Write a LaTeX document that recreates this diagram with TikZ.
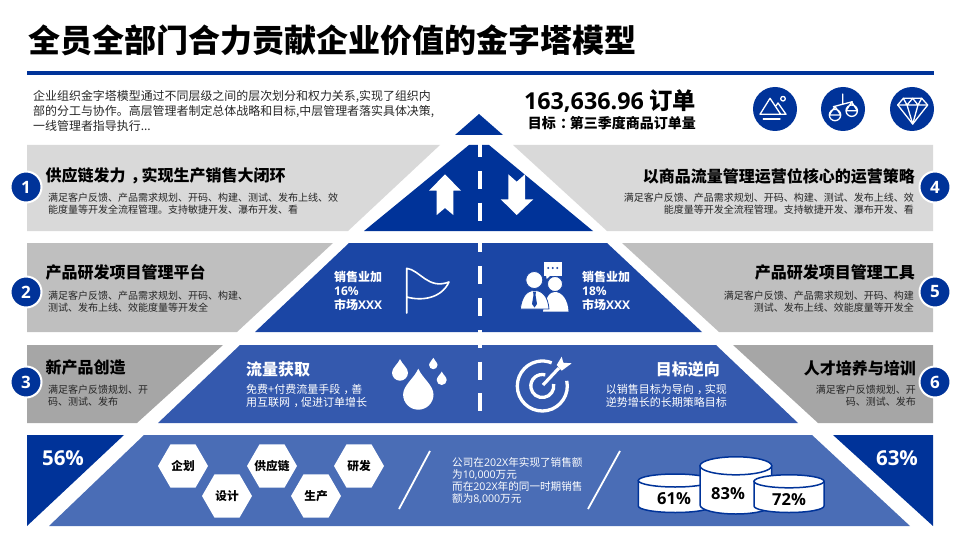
\documentclass[tikz,border=0pt]{standalone}
\usepackage{fontspec}
\setmainfont{Noto Sans CJK SC}
\newfontfamily\latfont{Open Sans}
\usepackage{tikz}
\usetikzlibrary{shapes.geometric}
\definecolor{navy}{HTML}{003399}
\definecolor{bluetwo}{HTML}{1B46A5}
\definecolor{bluethree}{HTML}{3459AE}
\definecolor{bluefour}{HTML}{4A6DB6}
\definecolor{grayone}{HTML}{D9D9D9}
\definecolor{graytwo}{HTML}{BFBFBF}
\definecolor{graythree}{HTML}{A6A6A6}
\newcommand{\fsize}[1]{\fontsize{#1}{#1}\selectfont}
\newcommand{\qcomma}{\hspace{.3em}\char"FF0C\hspace{-.3em}}
\newcommand{\qcolon}{\hspace{.3em}\char"FF1A\hspace{-.3em}}
\tikzset{
  numdot/.style  = {circle, fill=navy, draw=white, line width=2, minimum size=31, inner sep=0,
                    text=white, font=\latfont\bfseries\fsize{17}},
  icondot/.style = {circle, fill=navy, minimum size=44, inner sep=0},
  hexa/.style    = {regular polygon, regular polygon sides=6, fill=white, minimum size=50, inner sep=-8,
                    font=\bfseries\fsize{11.7}},
  head/.style    = {inner sep=0, font=\bfseries\fsize{16}},
  lsub/.style    = {inner sep=0, anchor=west, align=left, text=black!85,
                    font=\fontsize{10}{12}\selectfont},
  rsub/.style    = {inner sep=0, anchor=east, align=right, text=black!85,
                    font=\fontsize{10}{12}\selectfont},
  wsub/.style    = {inner sep=0, align=left, text=white, font=\fontsize{11}{13}\selectfont},
  sale/.style    = {inner sep=0, anchor=west, align=left, text=white,
                    font=\bfseries\fontsize{12}{14}\selectfont},
  pct/.style     = {inner sep=0, font=\latfont\bfseries\fsize{16.5}},
  bigpct/.style  = {inner sep=0, text=white, font=\latfont\bfseries\fsize{20.5}},
  iconline/.style= {draw=white, line width=1.3, line join=round, line cap=round},
  slash/.style   = {draw=white, line width=1.8},
  drumline/.style= {draw=navy, line width=1.5, fill=white},
}
% x1, x2, top y, ellipse height, bottom y
\newcommand{\drum}[5]{%
  \draw[drumline] (#1,#3) -- (#1,#5)
    arc[start angle=180, end angle=0, x radius={(#2-#1)/2}, y radius=#4] -- (#2,#3) -- cycle;
  \draw[drumline] ({(#1+#2)/2},#3) circle[x radius={(#2-#1)/2}, y radius=#4];
}
% x, y of the bulb, radius
\newcommand{\waterdrop}[3]{%
  \fill[white] (#1,{#2-1.7*#3}) .. controls ({#1+0.25*#3},{#2-1.1*#3}) and ({#1+#3},{#2-0.6*#3}) .. ({#1+#3},#2)
    arc[start angle=0, end angle=180, radius=#3]
    .. controls ({#1-#3},{#2-0.6*#3}) and ({#1-0.25*#3},{#2-1.1*#3}) .. cycle;
}
\begin{document}
\begin{tikzpicture}[x=1pt,y=-1pt]
  \useasboundingbox (0,0) rectangle (960,540);
  % header
  \node[inner sep=0, anchor=west, font=\bfseries\fsize{32}] (title) at (28,40) {全员全部门合力贡献企业价值的金字塔模型};
  \fill[navy] (27,71) rectangle (934,75);
  \node[inner sep=0, anchor=west, align=left, text=black!85, font=\fontsize{11.95}{14.7}\selectfont] (intro) at (33,111)
    {企业组织金字塔模型通过不同层级之间的层次划分和权力关系,实现了组织内\\部的分工与协作。高层管理者制定总体战略和目标,中层管理者落实具体决策,\\一线管理者指导执行...};
  \node[inner sep=0, anchor=east, font=\bfseries\fsize{23.3}] (total) at (696,101) {{\latfont 163,636.96} 订单};
  \node[inner sep=0, anchor=east, font=\bfseries\fsize{14}] (goal) at (696,123) {目标\qcolon 第三季度商品订单量};
  \node[icondot] (mountain) at (775,109) {};
  \node[icondot] (scales) at (843,109) {};
  \node[icondot] (gem) at (912,109) {};
  \draw[iconline] (760,114.3) -- (770,98.3) -- (780.7,114.3) (775.5,106.5) -- (778,103) -- (786,114.3) -- (760,114.3);
  \draw[iconline] (763.3,119) -- (780,119);
  \draw[iconline] (783,98.7) circle[radius=2.3];
  \draw[iconline] (842.7,94) -- (842.7,103.5) (833.3,106.7) -- (852.3,101.7);
  \draw[iconline] (835,115) circle[radius=5.7] (829.3,115) -- (840.7,115) (829.8,114) -- (835,106.5) -- (840.2,114);
  \draw[iconline] (851.7,110.7) circle[radius=5.7] (846,110.7) -- (857.4,110.7) (846.5,110) -- (851.7,102) -- (856.9,110);
  \draw[iconline] (897.7,105) -- (903.3,98.3) -- (921.7,98.3) -- (927.7,105) -- (912.7,124) -- cycle;
  \draw[iconline] (897.7,105) -- (927.7,105) (903.3,98.3) -- (907,105) -- (912.7,98.3) -- (918,105) -- (921.7,98.3)
    (907,105) -- (912.7,124) -- (918,105);
  % pyramid
  \fill[navy] (479,114) -- (503,135) -- (455,135) -- cycle;
  \fill[navy] (469,145) -- (489,145) -- (593,231) -- (364,231) -- cycle;
  \fill[bluetwo] (349,243) -- (607,243) -- (702,332) -- (255,332) -- cycle;
  \fill[bluethree] (240,345) -- (716,345) -- (798,423) -- (158,423) -- cycle;
  \fill[bluefour] (144,435) -- (812,435) -- (910,526) -- (49,526) -- cycle;
  \draw[white, line width=4.5, dash pattern=on 18 off 13.8] (480,139) -- (480,423);
  % side bands
  \fill[grayone] (27,145) -- (440,145) -- (348,231) -- (27,231) -- cycle;
  \fill[graytwo] (27,243) -- (333,243) -- (237,332) -- (27,332) -- cycle;
  \fill[graythree] (27,345) -- (223,345) -- (137,423) -- (27,423) -- cycle;
  \fill[navy] (27,435) -- (124,435) -- (27,526) -- cycle;
  \fill[grayone] (513,145) -- (933,145) -- (933,231) -- (607,231) -- cycle;
  \fill[graytwo] (622,243) -- (933,243) -- (933,332) -- (719,332) -- cycle;
  \fill[graythree] (733,345) -- (933,345) -- (933,423) -- (818,423) -- cycle;
  \fill[navy] (833,435) -- (933,435) -- (933,526) -- cycle;
  % numbers
  \node[numdot] (n1) at (26,187) {1};
  \node[numdot] (n2) at (26,292) {2};
  \node[numdot] (n3) at (26,382) {3};
  \node[numdot] (n4) at (935,187) {4};
  \node[numdot] (n5) at (935,292) {5};
  \node[numdot] (n6) at (935,382) {6};
  % left texts
  \node[head, anchor=west] (h1) at (45.5,176) {供应链发力\qcomma 实现生产销售大闭环};
  \node[lsub] (s1) at (48,204) {满足客户反馈、产品需求规划、开码、构建、测试、发布上线、效\\能度量等开发全流程管理。支持敏捷开发、瀑布开发、看};
  \node[head, anchor=west] (h2) at (45.5,272) {产品研发项目管理平台};
  \node[lsub] (s2) at (48,301.5) {满足客户反馈、产品需求规划、开码、构建、\\测试、发布上线、效能度量等开发全};
  \node[head, anchor=west] (h3) at (45.5,367) {新产品创造};
  \node[lsub] (s3) at (48,396) {满足客户反馈规划、开\\码、测试、发布};
  % right texts
  \node[head, anchor=east] (h4) at (915,176) {以商品流量管理运营位核心的运营策略};
  \node[rsub] (s4) at (914,204) {满足客户反馈、产品需求规划、开码、构建、测试、发布上线、效\\能度量等开发全流程管理。支持敏捷开发、瀑布开发、看};
  \node[head, anchor=east] (h5) at (915,272) {产品研发项目管理工具};
  \node[rsub] (s5) at (914,301.5) {满足客户反馈、产品需求规划、开码、构建\\测试、发布上线、效能度量等开发全};
  \node[head, anchor=east] (h6) at (916,368) {人才培养与培训};
  \node[rsub] (s6) at (916,396) {满足客户反馈规划、开\\码、测试、发布};
  % arrows
  \fill[white] (445,174.3) -- (461,190.7) -- (453.3,190.7) -- (453.3,215) -- (445,208) -- (436.7,215) -- (436.7,190.7) -- (429,190.7) -- cycle;
  \fill[white] (516.7,215) -- (500.7,199.3) -- (508.3,199.3) -- (508.3,174.3) -- (516.7,181.7) -- (525,174.3) -- (525,199.3) -- (533.3,199.3) -- cycle;
  % second row
  \node[sale] (sl) at (334,290.5) {销售业加\\{\latfont 16\%}\\市场{\latfont XXX}};
  \node[sale] (sr) at (582,291) {销售业加\\{\latfont 18\%}\\市场{\latfont XXX}};
  \draw[iconline, line width=1.6] (406.7,313) -- (406.7,268.3) .. controls (420,270) and (428,290) .. (449,282)
    .. controls (441,299) and (421,301) .. (406.7,297);
  \fill[white] (544,261.7) rectangle (562.3,275.7);
  \fill[white] (546,275) -- (546.7,279) -- (551,275) -- cycle;
  \foreach \xdot in {548.3,552.7,557.3} \fill[bluetwo] (\xdot,268) circle[radius=1.1];
  \fill[white, draw=bluetwo, line width=0.8] (555,284) circle[radius=7.5];
  \fill[white] (543,311.5) .. controls (546,296) and (550,292) .. (555,292) .. controls (562,292) and (568,300) .. (568.5,311.5) -- cycle;
  \fill[white, draw=bluetwo, line width=0.8] (534.3,280) circle[radius=8.5];
  \fill[white, draw=bluetwo, line width=0.8] (520.3,309) .. controls (522,296) and (527,290.5) .. (534.5,290.5) .. controls (542,290.5) and (548,296) .. (549,309) -- cycle;
  \fill[bluetwo] (533,291.5) -- (536,291.5) -- (535.5,295) -- (537,304) -- (534.5,307.5) -- (532,304) -- (533.5,295) -- cycle;
  % third row
  \node[head, anchor=west, text=white] (hflow) at (246,369) {流量获取};
  \node[wsub, anchor=west] (sflow) at (246,395.5) {免费+付费流量手段\qcomma 善\\用互联网\qcomma 促进订单增长};
  \node[head, anchor=east, text=white] (hgoal) at (720,369) {目标逆向};
  \node[wsub, anchor=east, align=right] (sgoal) at (727,395.5) {以销售目标为导向\qcomma 实现\\逆势增长的长期策略目标};
  \waterdrop{418.3}{394.5}{15.2}
  \waterdrop{400}{372.7}{8}
  \waterdrop{433.3}{365}{4.2}
  \waterdrop{441.7}{380}{5}
  \draw[white, line width=3.3] (542.3,386) ++(-12:25) arc[start angle=-12, end angle=292, radius=25];
  \draw[white, line width=3.3] (542.3,386) ++(-10:11.5) arc[start angle=-10, end angle=285, radius=11.5];
  \draw[bluethree, line width=5.5] (543,385) -- (558,369);
  \draw[white, line width=3.2] (543,385) -- (559,368);
  \fill[white] (556.7,365) -- (561.7,356.7) -- (563.3,362.7) -- (571.7,363.3) -- (561.7,370.7) -- cycle;
  % bottom row
  \node[bigpct] (p56) at (63,458) {56\%};
  \node[bigpct] (p63) at (897,458) {63\%};
  \node[hexa] (plan) at (183,466) {企划};
  \node[hexa] (design) at (227,496) {设计};
  \node[hexa] (supply) at (272,466) {供应链};
  \node[hexa] (make) at (316,496) {生产};
  \node[hexa] (rnd) at (359,466) {研发};
  \coordinate (sa) at (399,509); \coordinate (sb) at (430,451);
  \coordinate (sc) at (588,509); \coordinate (sd) at (620,451);
  \draw[slash] (sa) -- (sb);
  \draw[slash] (sc) -- (sd);
  \node[inner sep=0, anchor=west, align=left, text=white, font=\fontsize{10.6}{12}\selectfont] (report) at (452,481)
    {公司在{\latfont 202X}年实现了销售额\\为{\latfont 10,000}万元\\而在{\latfont 202X}年的同一时期销售\\额为{\latfont 8,000}万元};
  % drums
  \drum{638.3}{712}{480.5}{6.5}{506}
  \drum{700}{771.7}{465.8}{9}{505}
  \drum{754}{824}{481.3}{6.5}{506}
  \node[pct] (p61) at (674,499) {61\%};
  \node[pct] (p83) at (728,494) {83\%};
  \node[pct] (p72) at (789,500) {72\%};
\end{tikzpicture}
\end{document}
